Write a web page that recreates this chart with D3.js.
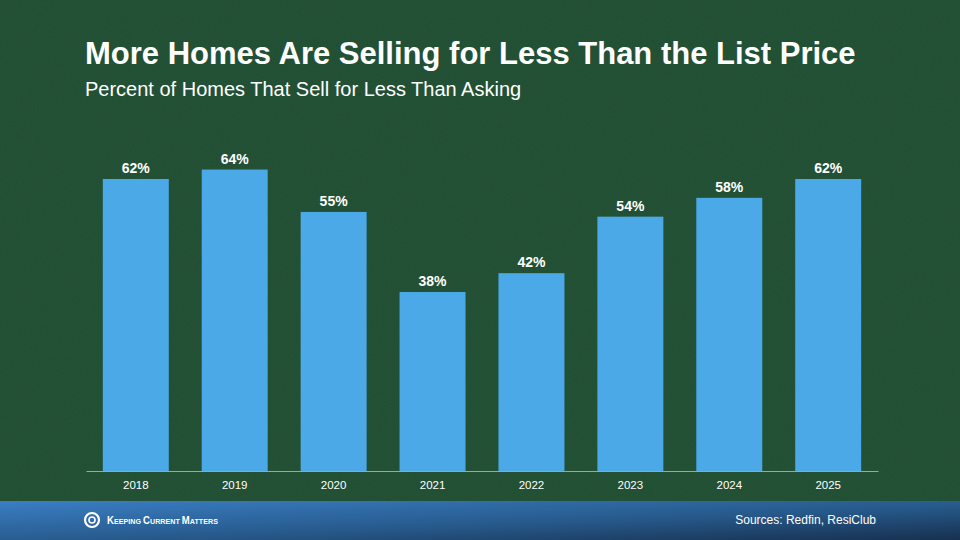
<!DOCTYPE html>
<html><head><meta charset="utf-8">
<script src="https://cdn.jsdelivr.net/npm/d3@7"></script>
<style>html,body{margin:0;padding:0;background:#24533a;}svg{display:block;}</style>
</head><body>
<script>
const years = ["2018","2019","2020","2021","2022","2023","2024","2025"];
const values = [62,64,55,38,42,54,58,62];
const title = "More Homes Are Selling for Less Than the List Price";
const subtitle = "Percent of Homes That Sell for Less Than Asking";
const source = "Sources: Redfin, ResiClub";

const W = 960, H = 540;
const FF = "Liberation Sans, Arial, Helvetica, sans-serif";
const svg = d3.select("body").append("svg").attr("width", W).attr("height", H);
const defs = svg.append("defs");
const grad = defs.append("linearGradient").attr("id","foot").attr("x1","0%").attr("y1","0%").attr("x2","100%").attr("y2","100%");
grad.append("stop").attr("offset","0%").attr("stop-color","#3a7ec4");
grad.append("stop").attr("offset","55%").attr("stop-color","#275a8c");
grad.append("stop").attr("offset","100%").attr("stop-color","#17304f");
const f = defs.append("filter").attr("id","noise").attr("x",0).attr("y",0).attr("width","100%").attr("height","100%")
  .attr("color-interpolation-filters","sRGB");
f.append("feTurbulence").attr("type","fractalNoise").attr("baseFrequency",0.9).attr("numOctaves",2).attr("result","t");
f.append("feColorMatrix").attr("in","t").attr("type","matrix").attr("values","0 0 0 0 0.12  0 0 0 0 0.28  0 0 0 0 0.17  0 0 0 0.6 0");
f.append("feComposite").attr("in2","SourceGraphic").attr("operator","in");

svg.append("rect").attr("width",W).attr("height",H).attr("fill","#25553a");
svg.append("rect").attr("width",W).attr("height",501).attr("fill","#25553a").attr("filter","url(#noise)");

svg.append("text").attr("x",85).attr("y",64).text(title)
  .attr("fill","#fff").attr("font-family",FF).attr("font-weight","bold").attr("font-size",31);
svg.append("text").attr("x",85).attr("y",96).text(subtitle)
  .attr("fill","#fff").attr("font-family",FF).attr("font-size",20);

const x = d3.scaleBand().domain(years).range([86,878]).paddingInner(0.333).paddingOuter(0.17);
const y = d3.scaleLinear().domain([0,100]).range([471,0]);

const g = svg.append("g");
g.selectAll("rect.bar").data(years).join("rect").attr("class","bar")
  .attr("x", d=>x(d)).attr("width", x.bandwidth())
  .attr("y", (d,i)=>y(values[i])).attr("height",(d,i)=>y(0)-y(values[i]))
  .attr("fill","#4ba9e8");
g.selectAll("text.val").data(years).join("text").attr("class","val")
  .attr("x", d=>x(d)+x.bandwidth()/2).attr("y",(d,i)=>y(values[i])-6)
  .attr("text-anchor","middle").attr("fill","#fff")
  .attr("font-family",FF).attr("font-weight","bold").attr("font-size",14)
  .text((d,i)=>values[i]+"%");

const ax = svg.append("g").attr("transform","translate(0,471)").call(d3.axisBottom(x).tickSize(0).tickPadding(10));
ax.select(".domain").attr("stroke","#9aa9a0").attr("stroke-width",1);
ax.selectAll("text").attr("fill","#fff").attr("font-family",FF).attr("font-size",11.5);

// footer
svg.append("rect").attr("y",501).attr("width",W).attr("height",39).attr("fill","url(#foot)");
const logo = svg.append("g").attr("transform","translate(92,520)");
logo.append("circle").attr("r",7).attr("fill","none").attr("stroke","#fff").attr("stroke-width",2.2);
logo.append("circle").attr("r",3).attr("fill","none").attr("stroke","#fff").attr("stroke-width",1.6);
const lt = svg.append("text").attr("x",107).attr("y",524).attr("fill","#fff")
  .attr("font-family",FF).attr("font-weight","bold").attr("font-size",7.5)
  .attr("textLength",111).attr("lengthAdjust","spacingAndGlyphs");
[["K","EEPING "],["C","URRENT "],["M","ATTERS"]].forEach(([a,b])=>{
  lt.append("tspan").attr("font-size",10).text(a);
  lt.append("tspan").text(b);
});
svg.append("text").attr("x",876).attr("y",524).attr("text-anchor","end").text(source)
  .attr("fill","#fff").attr("font-family",FF).attr("font-size",12);
</script>
</body></html>
